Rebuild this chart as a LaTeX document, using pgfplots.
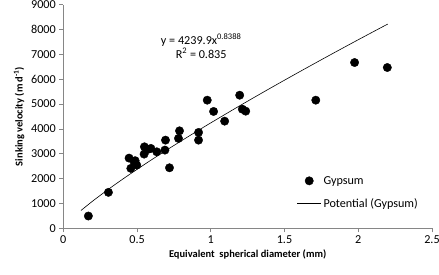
\documentclass[border=0pt]{standalone}
\usepackage{pgfplots}
\pgfplotsset{compat=1.18}
\usepackage{fontspec}
\setmainfont{Carlito}
\definecolor{axgray}{HTML}{868686}
\pgfplotsset{
  dotlegend/.style={legend image code/.code={\draw[##1] plot coordinates {(12bp,0)};}},
  linelegend/.style={legend image code/.code={\draw[##1] (0,0) -- (24bp,0);}},
}
\begin{document}
\begin{tikzpicture}
\useasboundingbox (-63.3bp,-46.7bp) rectangle (375.7bp,228.3bp);
\begin{axis}[
  scale only axis,
  width=368.7bp, height=223.8bp,
  xmin=0, xmax=2.5, ymin=0, ymax=9000,
  xtick={0,0.5,1,1.5,2,2.5},
  ytick={0,1000,...,9000},
  axis lines=left,
  axis line style={-, axgray, line width=0.6pt},
  tick style={axgray, line width=0.6pt},
  tick align=outside,
  major tick length=4bp,
  /pgf/number format/assume math mode=true,
  /pgf/number format/1000 sep={},
  scaled y ticks=false,
  tick label style={font=\fontsize{12.2}{14}\selectfont, black},
  xlabel={\textbf{Equivalent\ \ spherical diameter (mm)}},
  ylabel={\textbf{Sinking velocity (m d\textsuperscript{-1})}},
  label style={font=\fontsize{10.5}{12}\selectfont},
  xlabel style={yshift=1bp},
  ylabel style={yshift=0bp},
  legend style={draw=none, fill=none, at={(0.625,0.068)}, anchor=south west,
    font=\fontsize{12.2}{14}\selectfont, row sep=9bp},
  legend cell align=left,
  clip=false,
]
\addplot[only marks, mark=*, mark size=4.2bp, black, dotlegend]
  coordinates {
(0.17,494) (0.306,1446) (0.446,2823) (0.458,2410) (0.48,2675) (0.487,2720)
(0.498,2542) (0.55,3277) (0.548,2984) (0.573,3173) (0.594,3213) (0.634,3076)
(0.693,3546) (0.689,3145) (0.72,2434) (0.788,3920) (0.781,3614) (0.917,3855)
(0.917,3546) (0.976,5153) (1.019,4699) (1.094,4309) (1.196,5353) (1.214,4791)
(1.237,4711) (1.712,5153) (1.975,6667) (2.197,6466)
};
\addlegendentry{Gypsum}
\addplot[black, line width=0.6pt, smooth, linelegend]
  coordinates {
(0.12,716) (0.2,1099) (0.3,1544) (0.4,1966) (0.5,2370) (0.6,2762)
(0.7,3144) (0.8,3516) (0.9,3881) (1.0,4240) (1.2,4941) (1.4,5623)
(1.6,6289) (1.8,6942) (2.0,7584) (2.2,8214)
};
\addlegendentry{Potential (Gypsum)}
\node[font=\fontsize{12.2}{14}\selectfont, align=center] at (axis cs:0.935,7330)
  {y = 4239.9x\textsuperscript{0.8388}\\ R\textsuperscript{2} = 0.835};
\end{axis}
\end{tikzpicture}
\end{document}
